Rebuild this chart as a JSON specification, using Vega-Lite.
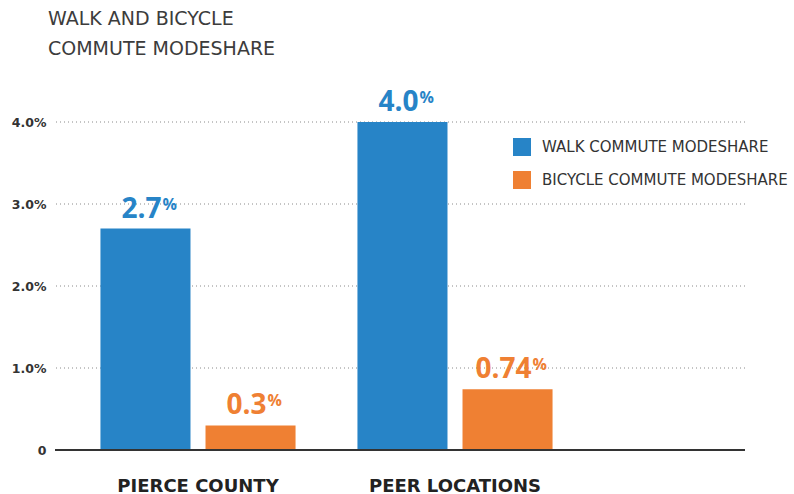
{
  "$schema": "https://vega.github.io/schema/vega-lite/v6.json",
  "width": 690,
  "height": 328,
  "autosize": {"type": "none"},
  "padding": {"left": 55, "top": 122, "right": 49, "bottom": 44},
  "background": "white",
  "config": {"view": {"stroke": null}, "font": "DejaVu Sans"},
  "title": {
    "text": ["WALK AND BICYCLE", "COMMUTE MODESHARE"],
    "anchor": "start",
    "frame": "group",
    "dx": -7,
    "offset": 30,
    "fontSize": 19,
    "fontWeight": "normal",
    "color": "#3c3c3c",
    "lineHeight": 30,
    "font": "DejaVu Sans"
  },
  "data": {
    "values": [
      {"location": "PIERCE COUNTY", "mode": "WALK COMMUTE MODESHARE", "value": 2.7, "label": "2.7"},
      {"location": "PIERCE COUNTY", "mode": "BICYCLE COMMUTE MODESHARE", "value": 0.3, "label": "0.3"},
      {"location": "PEER LOCATIONS", "mode": "WALK COMMUTE MODESHARE", "value": 4.0, "label": "4.0"},
      {"location": "PEER LOCATIONS", "mode": "BICYCLE COMMUTE MODESHARE", "value": 0.74, "label": "0.74"}
    ]
  },
  "encoding": {
    "x": {
      "field": "location",
      "type": "nominal",
      "sort": ["PIERCE COUNTY", "PEER LOCATIONS"],
      "scale": {"range": [14.5, 528.5], "paddingInner": 0.2, "paddingOuter": 0.1},
      "axis": {
        "title": null,
        "domain": false,
        "ticks": false,
        "labelAngle": 0,
        "labelPadding": 27,
        "labelFontSize": 18,
        "labelFontWeight": "bold",
        "labelColor": "#222222",
        "labelFont": "DejaVu Sans",
        "labelLimit": 300
      }
    },
    "xOffset": {
      "field": "mode",
      "type": "nominal",
      "sort": ["WALK COMMUTE MODESHARE", "BICYCLE COMMUTE MODESHARE"],
      "scale": {"paddingInner": 0.143, "paddingOuter": 0.05}
    },
    "y": {
      "field": "value",
      "type": "quantitative",
      "scale": {"domain": [0, 4], "nice": false},
      "axis": {
        "title": null,
        "values": [0, 1, 2, 3, 4],
        "labelExpr": "datum.value == 0 ? '0' : format(datum.value, '.1f') + '%'",
        "domain": false,
        "ticks": false,
        "grid": false,
        "labelPadding": 9,
        "labelFontSize": 12.5,
        "labelFontWeight": "bold",
        "labelColor": "#333333",
        "labelFont": "DejaVu Sans"
      }
    }
  },
  "layer": [
    {
      "data": {"values": [{"tick": 1}, {"tick": 2}, {"tick": 3}, {"tick": 4}]},
      "mark": {"type": "rule", "color": "#8a8a8a", "strokeWidth": 1, "strokeDash": [1, 3]},
      "encoding": {
        "y": {"field": "tick", "type": "quantitative"},
        "x": null,
        "xOffset": null
      }
    },
    {
      "mark": {"type": "bar"},
      "encoding": {
        "color": {
          "field": "mode",
          "type": "nominal",
          "scale": {
            "domain": ["WALK COMMUTE MODESHARE", "BICYCLE COMMUTE MODESHARE"],
            "range": ["#2784c7", "#ef8033"]
          },
          "legend": {
            "title": null,
            "orient": "none",
            "legendX": 458,
            "legendY": 16,
            "symbolType": "square",
            "symbolSize": 324,
            "symbolStrokeWidth": 0,
            "symbolOpacity": 1,
            "rowPadding": 15,
            "labelOffset": 11,
            "labelFontSize": 15,
            "labelLimit": 400,
            "labelColor": "#333333",
            "labelFont": "DejaVu Sans"
          }
        }
      }
    },
    {
      "mark": {
        "type": "text",
        "align": "right",
        "baseline": "alphabetic",
        "dy": -11,
        "dx": {"expr": "8*length(datum.label) - 8"},
        "fontSize": 28,
        "fontWeight": "bold",
        "font": "Open Sans"
      },
      "encoding": {
        "text": {"field": "label"},
        "color": {"field": "mode", "type": "nominal", "legend": null}
      }
    },
    {
      "mark": {
        "type": "text",
        "align": "left",
        "baseline": "alphabetic",
        "dy": -19,
        "dx": {"expr": "8*length(datum.label) - 7"},
        "fontSize": 16,
        "fontWeight": "bold",
        "font": "Open Sans"
      },
      "encoding": {
        "text": {"value": "%"},
        "color": {"field": "mode", "type": "nominal", "legend": null}
      }
    },
    {
      "mark": {"type": "rule", "color": "#333333", "strokeWidth": 2},
      "encoding": {"y": {"datum": 0}, "x": null, "xOffset": null}
    }
  ]
}
